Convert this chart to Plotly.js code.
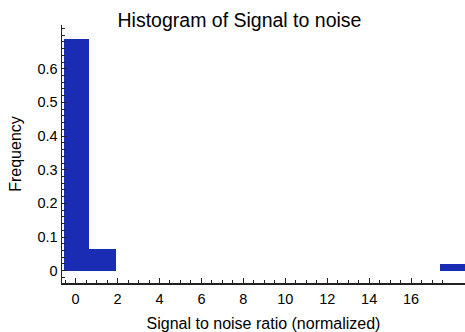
<!DOCTYPE html>
<html>
<head>
<meta charset="utf-8">
<script src="https://cdn.plot.ly/plotly-3.0.1.min.js"></script>
<style>html,body{margin:0;padding:0;background:#fff;}#chart{width:465px;height:332px;}</style>
</head>
<body>
<div id="chart"></div>
<script>
// Histogram bins (signal to noise ratio, normalized) and frequencies
var binLeft = [-0.57, 0.62, 17.38];
var binRight = [0.62, 1.94, 18.70];
var frequency = [0.688, 0.066, 0.020];
var xTickVals = [0, 2, 4, 6, 8, 10, 12, 14, 16];
var yTickVals = [0, 0.1, 0.2, 0.3, 0.4, 0.5, 0.6];
var yTickText = ['0', '0.1', '0.2', '0.3', '0.4', '0.5', '0.6'];

var centers = binLeft.map(function (l, i) { return (l + binRight[i]) / 2; });
var widths = binLeft.map(function (l, i) { return binRight[i] - l; });

var xMinor = [];
for (var v = -0.5; v <= 17.5 + 1e-9; v += 0.5) xMinor.push(+v.toFixed(2));
var yMinor = [];
for (var w = -0.02; w <= 0.72 + 1e-9; w += 0.02) yMinor.push(+w.toFixed(2));

var font = 'Liberation Sans, Arial, Helvetica, sans-serif';
var data = [{
  type: 'bar',
  x: centers,
  y: frequency,
  width: widths,
  marker: { color: '#1a2bb4', line: { width: 0 } },
  hoverinfo: 'x+y'
}];

var layout = {
  width: 465, height: 332,
  margin: { l: 62, r: 0, t: 25, b: 49, pad: 0 },
  paper_bgcolor: '#fff', plot_bgcolor: '#fff',
  showlegend: false,
  bargap: 0,
  font: { family: font, color: '#000', size: 14 },
  title: {
    text: 'Histogram of Signal to noise',
    font: { family: font, size: 19.5, color: '#000' },
    xref: 'container', x: 0.515, xanchor: 'center',
    yref: 'container', y: 1 - 20 / 332, yanchor: 'middle'
  },
  xaxis: {
    range: [-0.65, 18.57],
    tickmode: 'array', tickvals: xTickVals,
    ticks: 'inside', ticklen: 5, tickwidth: 1, tickcolor: '#222',
    ticklabelstandoff: 2,
    minor: { tickmode: 'array', tickvals: xMinor, ticks: 'inside', ticklen: 3, tickwidth: 1, tickcolor: '#222', showgrid: false },
    showgrid: false, zeroline: false,
    showline: true, linecolor: '#222', linewidth: 1.5,
    tickfont: { family: font, size: 14.5, color: '#000' },
    title: { text: 'Signal to noise ratio (normalized)', font: { family: font, size: 16, color: '#000' }, standoff: 12 },
    fixedrange: true
  },
  yaxis: {
    range: [-0.0365, 0.73],
    tickmode: 'array', tickvals: yTickVals, ticktext: yTickText,
    ticks: 'inside', ticklen: 5, tickwidth: 1, tickcolor: '#222',
    minor: { tickmode: 'array', tickvals: yMinor, ticks: 'inside', ticklen: 3, tickwidth: 1, tickcolor: '#222', showgrid: false },
    showgrid: false, zeroline: false,
    showline: true, linecolor: '#222', linewidth: 1.5,
    tickfont: { family: font, size: 14.5, color: '#000' },
    title: { text: 'Frequency', font: { family: font, size: 16, color: '#000' }, standoff: 12 },
    fixedrange: true
  }
};

Plotly.newPlot('chart', data, layout, { displayModeBar: false, staticPlot: true });
</script>
</body>
</html>
